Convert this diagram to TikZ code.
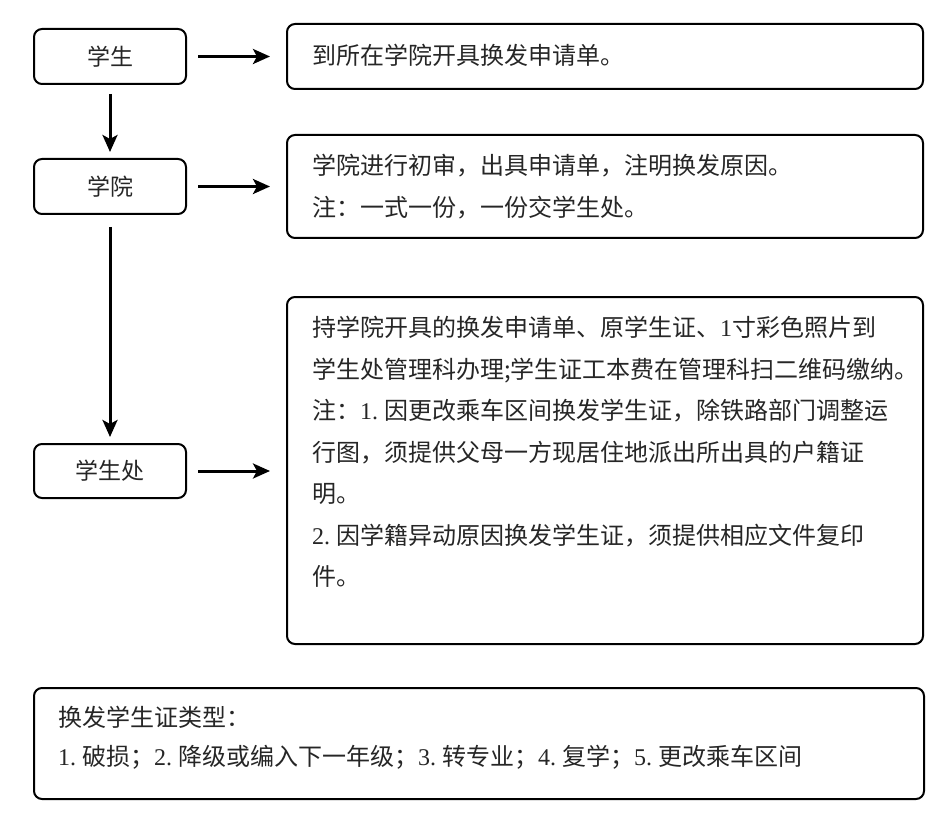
\documentclass[tikz,border=0pt]{standalone}
\usepackage{fontspec}
\setmainfont{Noto Sans CJK SC}
\newfontfamily\latinf{Liberation Serif}
\newcommand\numdot[1]{{\latinf\makebox[0.5em][l]{#1}\makebox[0.5em][l]{.}}}
\usetikzlibrary{arrows.meta}
\tikzset{
  box/.style={draw, line width=2pt, rounded corners=8pt, inner sep=0pt, anchor=north west},
  lbl/.style={font=\fontsize{23}{28}\selectfont, color=black!85},
  txt/.style={anchor=north west, inner sep=0pt, align=left, font=\fontsize{24}{41.5}\selectfont, color=black!85},
  arr/.style={line width=3pt, -{Stealth[length=17pt,width=15pt,inset=4pt]}},
}
\begin{document}
\begin{tikzpicture}[x=1pt,y=-1pt]
\useasboundingbox (0,0) rectangle (946,824);
% left boxes
\node[box, minimum width=152pt, minimum height=55pt] (s) at (33,28) {};
\node[lbl] (st) at (s.center) {学生};
\node[box, minimum width=152pt, minimum height=55pt] (c) at (33,158) {};
\node[lbl] (ct) at (c.center) {学院};
\node[box, minimum width=152pt, minimum height=54pt] (o) at (33,443) {};
\node[lbl] (ot) at (o.center) {学生处};
% right boxes
\node[box, minimum width=636pt, minimum height=65pt] (r1) at (286,23) {};
\node[txt, anchor=west] (r1t) at (312,55.5) {到所在学院开具换发申请单。};
\node[box, minimum width=636pt, minimum height=103pt] (r2) at (286,134) {};
\node[txt] (r2t) at (312,154) {学院进行初审，出具申请单，注明换发原因。\\注：一式一份，一份交学生处。};
\node[box, minimum width=636pt, minimum height=347pt] (r3) at (286,296) {};
\node[txt] (r3t) at (312,316) {持学院开具的换发申请单、原学生证、{\latinf 1}寸彩色照片到\\学生处管理科办理;学生证工本费在管理科扫二维码缴纳。\\注：\numdot{1}因更改乘车区间换发学生证，除铁路部门调整运\\行图，须提供父母一方现居住地派出所出具的户籍证\\明。\\\numdot{2}因学籍异动原因换发学生证，须提供相应文件复印\\件。};
% bottom box
\node[box, minimum width=890pt, minimum height=111pt] (b) at (33,687) {};
\node[txt, font=\fontsize{24}{39}\selectfont] (bt) at (58,706) {换发学生证类型：\\\numdot{1}破损；\numdot{2}降级或编入下一年级；\numdot{3}转专业；\numdot{4}复学；\numdot{5}更改乘车区间};
% arrows
\draw[arr, shorten <=9pt, shorten >=6pt] (s.south) -- (c.north);
\draw[arr, shorten <=12pt, shorten >=6pt] (c.south) -- (o.north);
\draw[arr, shorten <=11pt, shorten >=16pt] (s.east) -- (s.east -| r1.west);
\draw[arr, shorten <=11pt, shorten >=16pt] (c.east) -- (c.east -| r2.west);
\draw[arr, shorten <=11pt, shorten >=16pt] (o.east) -- (o.east -| r3.west);
\end{tikzpicture}
\end{document}
